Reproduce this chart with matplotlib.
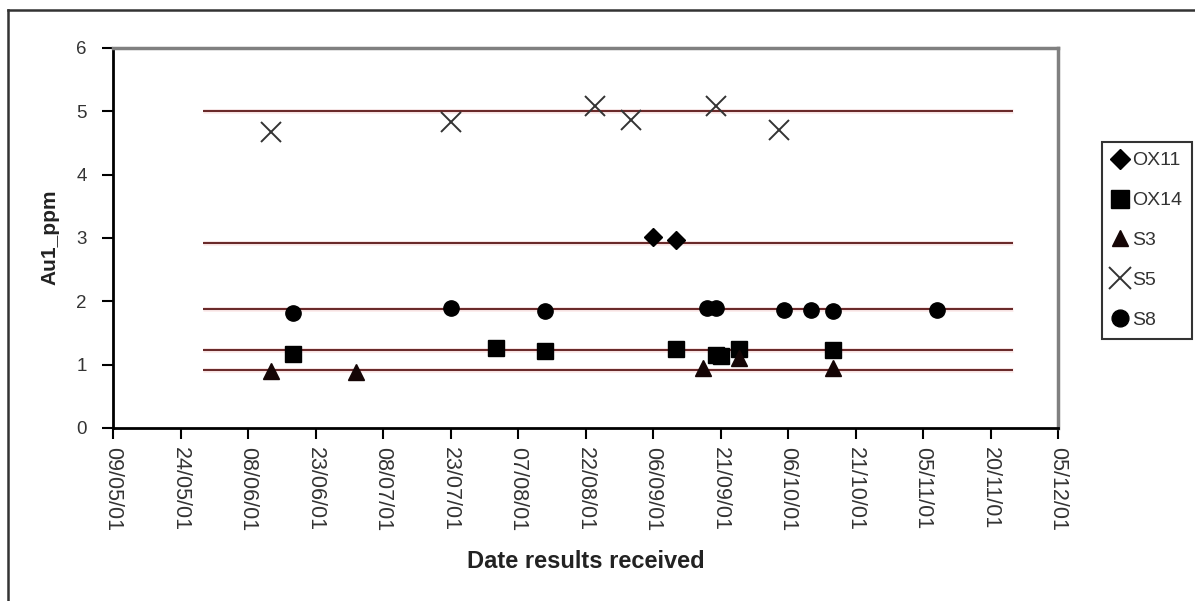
import matplotlib
matplotlib.use("Agg")
import matplotlib.pyplot as plt
import matplotlib.dates as mdates
from matplotlib.lines import Line2D
import pandas as pd

plt.rcParams['font.family'] = ['Liberation Sans', 'DejaVu Sans']

# ---- data ----
ox11_dates = ["2001-09-06", "2001-09-11"]
ox11_vals = [3.02, 2.97]

ox14_dates = ["2001-06-18", "2001-08-02", "2001-08-13", "2001-09-11", "2001-09-20",
              "2001-09-21", "2001-09-25", "2001-10-16"]
ox14_vals = [1.17, 1.26, 1.21, 1.25, 1.15, 1.13, 1.25, 1.23]

s3_dates = ["2001-06-13", "2001-07-02", "2001-09-17", "2001-09-25", "2001-10-16"]
s3_vals = [0.90, 0.88, 0.95, 1.10, 0.95]

s5_dates = ["2001-06-13", "2001-07-23", "2001-08-24", "2001-09-01", "2001-09-20", "2001-10-04"]
s5_vals = [4.68, 4.83, 5.08, 4.86, 5.08, 4.70]

s8_dates = ["2001-06-18", "2001-07-23", "2001-08-13", "2001-09-18", "2001-09-20",
            "2001-10-05", "2001-10-11", "2001-10-16", "2001-11-08"]
s8_vals = [1.82, 1.89, 1.84, 1.89, 1.89, 1.87, 1.87, 1.84, 1.87]

ref_levels = [5.0, 2.92, 1.88, 1.23, 0.91]
ref_start = "2001-05-29"
ref_end = "2001-11-25"

tick_dates = ["2001-05-09", "2001-05-24", "2001-06-08", "2001-06-23", "2001-07-08",
              "2001-07-23", "2001-08-07", "2001-08-22", "2001-09-06", "2001-09-21",
              "2001-10-06", "2001-10-21", "2001-11-05", "2001-11-20", "2001-12-05"]

W, H = 1195, 601
fig = plt.figure(figsize=(W / 100, H / 100), dpi=100)
ax = fig.add_axes([113 / W, 1 - 428 / H, (1058 - 113) / W, (428 - 48) / H])

d = lambda lst: pd.to_datetime(lst)

# reference lines
for lv in ref_levels:
    ax.plot(d([ref_start, ref_end]), [lv, lv], color='#f7c8c8', lw=3.5, alpha=0.35,
            solid_capstyle='butt', zorder=1)
    ax.plot(d([ref_start, ref_end]), [lv, lv], color='#6a2a2a', lw=1.5,
            solid_capstyle='butt', zorder=2)

ax.plot(d(ox11_dates), ox11_vals, ls='none', marker='D', ms=9, color='black', label='OX11', zorder=3)
ax.plot(d(ox14_dates), ox14_vals, ls='none', marker='s', ms=12, color='black', label='OX14', zorder=3)
ax.plot(d(s3_dates), s3_vals, ls='none', marker='^', ms=11, color='#150505', label='S3', zorder=3)
ax.plot(d(s5_dates), s5_vals, ls='none', marker='x', ms=15, mew=1.4, color='#333333', label='S5', zorder=3)
ax.plot(d(s8_dates), s8_vals, ls='none', marker='o', ms=11, color='black', label='S8', zorder=3)

ax.set_ylim(0, 6)
ax.set_xlim(pd.Timestamp(tick_dates[0]), pd.Timestamp(tick_dates[-1]))
ax.set_yticks([0, 1, 2, 3, 4, 5, 6])
ax.set_xticks(d(tick_dates))
ax.xaxis.set_major_formatter(mdates.DateFormatter('%d/%m/%y'))
ax.tick_params(axis='x', labelrotation=270, labelsize=15.5, length=8, width=1.5,
               direction='out', pad=6, colors='black', labelcolor='#333333')
ax.tick_params(axis='y', labelsize=13.5, length=8, width=1.5, direction='out', pad=11,
               labelcolor='#333333')
for lbl in ax.get_xticklabels():
    lbl.set_va('top')
    lbl.set_ha('center')

for s in ['left', 'bottom']:
    ax.spines[s].set_color('black')
    ax.spines[s].set_linewidth(2)
for s in ['top', 'right']:
    ax.spines[s].set_color('#808080')
    ax.spines[s].set_linewidth(2.5)

fig.text(50 / W, 1 - 237 / H, 'Au1_ppm', rotation=90, ha='center', va='center',
         fontsize=15, fontweight='bold', color='#222222')
fig.text(586 / W, 1 - 561 / H, 'Date results received', ha='center', va='center',
         fontsize=17, fontweight='bold', color='#222222')

leg = fig.legend(loc='upper left', bbox_to_anchor=(1102 / W, 1 - 142 / H),
                 fontsize=14, frameon=True, fancybox=False, borderaxespad=0,
                 handlelength=0.8, handletextpad=0.25, labelspacing=1.15,
                 borderpad=0.5, markerscale=1.1)
leg.get_frame().set_edgecolor('black')
leg.get_frame().set_linewidth(1.5)
for t in leg.get_texts():
    t.set_color('#333333')

# outer chart border (cut off at right and bottom)
fig.add_artist(Line2D([8 / W, 8 / W], [0, 1 - 10 / H], transform=fig.transFigure,
                      color='#333333', lw=1.8))
fig.add_artist(Line2D([8 / W, 1], [1 - 10 / H, 1 - 10 / H], transform=fig.transFigure,
                      color='#333333', lw=1.8))

fig.savefig('out.png', dpi=100)
